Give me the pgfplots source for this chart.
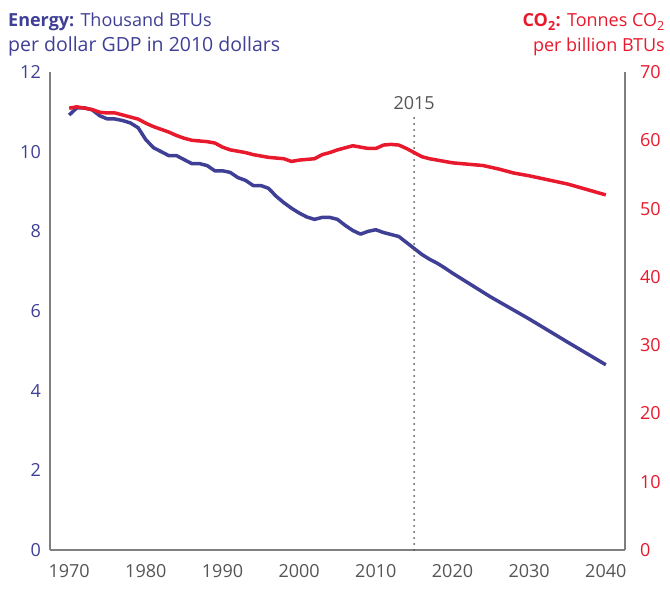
\documentclass[border=0pt]{standalone}
\usepackage{fontspec}
\setmainfont{Open Sans}
\usepackage{pgfplots}
\pgfplotsset{compat=1.18}
\definecolor{eblue}{HTML}{3F3F95}
\definecolor{cred}{HTML}{E8192C}
\definecolor{axgray}{HTML}{7F7F7F}
\definecolor{txgray}{HTML}{555555}
\begin{document}
\fontsize{18bp}{22bp}\selectfont
\begin{tikzpicture}
\useasboundingbox (-50bp,-40bp) rectangle (620bp,550bp);
\begin{axis}[
  scale only axis, width=575bp, height=478bp,
  xmin=1967.5, xmax=2042.5, ymin=0, ymax=12,
  axis x line*=bottom, axis y line*=left,
  axis line style={axgray, line width=1.2bp, -},
  xtick={1970,1980,...,2040}, ytick={0,2,...,12},
  major tick length=0pt,
  /pgf/number format/assume math mode=true,
  /pgf/number format/1000 sep={},
  xticklabel style={txgray, font=\fontsize{18bp}{22bp}\selectfont, yshift=-8bp},
  yticklabel style={eblue, font=\fontsize{18bp}{22bp}\selectfont, xshift=-3bp},
  clip=false,
]
\addplot[eblue, line width=3.5bp, line join=round] coordinates {
(1970,10.92)(1971,11.1)(1972,11.1)(1973,11.05)(1974,10.9)(1975,10.82)(1976,10.82)(1977,10.78)(1978,10.72)(1979,10.6)
(1980,10.3)(1981,10.1)(1982,10.0)(1983,9.9)(1984,9.9)(1985,9.8)(1986,9.7)(1987,9.7)(1988,9.65)(1989,9.52)
(1990,9.52)(1991,9.48)(1992,9.35)(1993,9.28)(1994,9.15)(1995,9.15)(1996,9.08)(1997,8.88)(1998,8.72)(1999,8.58)
(2000,8.46)(2001,8.36)(2002,8.3)(2003,8.35)(2004,8.35)(2005,8.3)(2006,8.15)(2007,8.02)(2008,7.93)(2009,8.0)
(2010,8.04)(2011,7.97)(2012,7.92)(2013,7.87)(2014,7.72)(2015,7.57)(2016,7.42)(2017,7.3)(2018,7.2)(2019,7.08)
(2020,6.95)(2025,6.35)(2030,5.8)(2035,5.22)(2040,4.65)
};
\draw[txgray, line width=2bp, line cap=round, dash pattern=on 0pt off 6bp] (axis cs:2015,0) -- (axis cs:2015,10.9);
\node[txgray, anchor=base] at (axis cs:2015,11.07) {2015};
\end{axis}
\begin{axis}[
  scale only axis, width=575bp, height=478bp,
  xmin=1967.5, xmax=2042.5, ymin=0, ymax=70,
  axis x line=none, axis y line*=right,
  axis line style={axgray, line width=1.2bp, -},
  ytick={0,10,...,70},
  major tick length=0pt,
  /pgf/number format/assume math mode=true,
  yticklabel style={cred, font=\fontsize{18bp}{22bp}\selectfont, xshift=9bp},
]
\addplot[cred, line width=3.5bp, line join=round] coordinates {
(1970,64.7)(1971,64.9)(1972,64.7)(1973,64.5)(1974,64.1)(1975,64.0)(1976,64.0)(1977,63.7)(1978,63.4)(1979,63.1)
(1980,62.5)(1981,62.0)(1982,61.6)(1983,61.2)(1984,60.7)(1985,60.3)(1986,60.0)(1987,59.9)(1988,59.8)(1989,59.6)
(1990,59.0)(1991,58.6)(1992,58.4)(1993,58.2)(1994,57.9)(1995,57.7)(1996,57.5)(1997,57.4)(1998,57.3)(1999,56.9)
(2000,57.1)(2001,57.2)(2002,57.3)(2003,57.9)(2004,58.2)(2005,58.6)(2006,58.9)(2007,59.2)(2008,59.0)(2009,58.8)
(2010,58.8)(2011,59.3)(2012,59.4)(2013,59.3)(2014,58.8)(2015,58.2)(2016,57.6)(2017,57.3)(2018,57.1)(2019,56.9)
(2020,56.7)(2022,56.5)(2024,56.3)(2026,55.8)(2028,55.2)(2030,54.8)(2035,53.6)(2040,52.0)
};
\end{axis}
\node[eblue, anchor=base west, inner sep=0pt] at (-42bp,523bp) {\textbf{Energy:} Thousand BTUs};
\node[eblue, anchor=base west, inner sep=0pt] at (-42bp,498bp) {\fontsize{19.5bp}{22bp}\selectfont per dollar GDP in 2010 dollars};
\node[cred, anchor=base east, inner sep=0pt] at (615bp,523bp) {\textbf{CO\textsubscript{2}:} Tonnes CO\textsubscript{2}};
\node[cred, anchor=base east, inner sep=0pt] at (615bp,498bp) {per billion BTUs};
\end{tikzpicture}
\end{document}
